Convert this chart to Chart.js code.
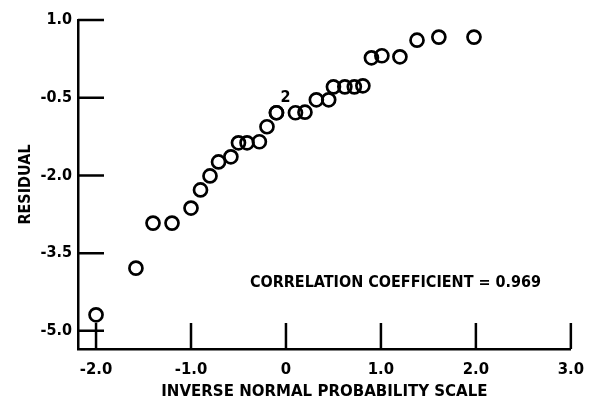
<!DOCTYPE html>
<html>
<head>
<meta charset="utf-8">
<script src="https://cdn.jsdelivr.net/npm/chart.js@4.4.1/dist/chart.umd.min.js"></script>
<style>
  html, body { margin: 0; padding: 0; background: #fff; }
  #wrap { width: 595px; height: 402px; }
</style>
</head>
<body>
<div id="wrap"><canvas id="chart" width="595" height="402"></canvas></div>
<script>
  // inverse normal score (x) vs residual (y)
  const zScores = [-2.00, -1.58, -1.40, -1.20, -1.00, -0.90, -0.80, -0.71, -0.58, -0.50,
    -0.41, -0.28, -0.20, -0.10, -0.10, 0.10, 0.20, 0.32, 0.45, 0.50,
    0.62, 0.72, 0.81, 0.90, 1.01, 1.20, 1.38, 1.61, 1.98];
  const residuals = [-4.69, -3.79, -2.92, -2.92, -2.63, -2.28, -2.01, -1.74, -1.64, -1.37,
    -1.37, -1.35, -1.06, -0.79, -0.79, -0.79, -0.78, -0.54, -0.54, -0.29,
    -0.29, -0.29, -0.27, 0.27, 0.31, 0.29, 0.61, 0.67, 0.67];

  const xTicks = [-2, -1, 0, 1, 2, 3];
  const yTicks = [1.0, -0.5, -2.0, -3.5, -5.0];
  const xTitle = 'INVERSE NORMAL PROBABILITY SCALE';
  const yTitle = 'RESIDUAL';
  const corrText = 'CORRELATION COEFFICIENT = 0.969';
  const corrAnchor = { x: -0.38, y: -4.07 };
  const pairMark = { x: -0.10, y: -0.79, text: '2' };

  const FONT = "'Liberation Sans Narrow', 'DejaVu Sans Condensed', 'DejaVu Sans', sans-serif";
  const INK = '#000';
  const TICK_LEN = 26;

  Chart.defaults.font.family = FONT;
  Chart.defaults.font.weight = 'bold';
  Chart.defaults.color = INK;

  const innerTicks = {
    id: 'innerTicks',
    afterDraw(chart) {
      const { ctx, chartArea, scales } = chart;
      ctx.save();
      ctx.strokeStyle = INK;
      ctx.lineWidth = 2.5;
      ctx.beginPath();
      xTicks.forEach((v) => {
        const px = scales.x.getPixelForValue(v);
        ctx.moveTo(px, chartArea.bottom);
        ctx.lineTo(px, chartArea.bottom - TICK_LEN);
      });
      yTicks.forEach((v) => {
        const py = scales.y.getPixelForValue(v);
        ctx.moveTo(chartArea.left, py);
        ctx.lineTo(chartArea.left + TICK_LEN, py);
      });
      ctx.stroke();
      ctx.restore();
    }
  };

  const notes = {
    id: 'notes',
    afterDraw(chart) {
      const { ctx, scales } = chart;
      ctx.save();
      ctx.fillStyle = INK;
      ctx.textBaseline = 'middle';
      ctx.textAlign = 'left';
      ctx.font = 'bold 16px ' + FONT;
      ctx.fillText(corrText, scales.x.getPixelForValue(corrAnchor.x), scales.y.getPixelForValue(corrAnchor.y));
      ctx.font = 'bold 16px ' + FONT;
      ctx.textAlign = 'center';
      ctx.fillText(pairMark.text, scales.x.getPixelForValue(pairMark.x) + 9, scales.y.getPixelForValue(pairMark.y) - 15);
      ctx.restore();
    }
  };

  new Chart(document.getElementById('chart'), {
    type: 'scatter',
    data: {
      datasets: [{
        data: zScores.map((x, i) => ({ x, y: residuals[i] })),
        pointStyle: 'circle',
        pointRadius: 6.5,
        pointBorderWidth: 2.7,
        pointBackgroundColor: 'rgba(0,0,0,0)',
        pointBorderColor: INK
      }]
    },
    options: {
      responsive: false,
      devicePixelRatio: 1,
      animation: false,
      layout: { padding: { top: 20, right: 17, bottom: 0, left: 0 } },
      plugins: { legend: { display: false }, tooltip: { enabled: false } },
      scales: {
        x: {
          type: 'linear',
          min: -2.19,
          max: 3.0,
          afterBuildTicks: (s) => { s.ticks = xTicks.map((v) => ({ value: v })); },
          afterFit: (s) => { s.height = 53; },
          grid: { display: false, drawTicks: false },
          border: { display: true, color: INK, width: 2.5 },
          ticks: {
            padding: 11,
            font: { size: 16.5 },
            maxRotation: 0,
            callback: (v) => (v === 0 ? '0' : v.toFixed(1))
          },
          title: { display: true, text: xTitle, font: { size: 16.7 }, padding: { top: 0, bottom: 0 } }
        },
        y: {
          type: 'linear',
          min: -5.35,
          max: 1.0,
          afterBuildTicks: (s) => { s.ticks = yTicks.map((v) => ({ value: v })); },
          afterFit: (s) => { s.width = 78; },
          grid: { display: false, drawTicks: false },
          border: { display: true, color: INK, width: 2.5 },
          ticks: {
            padding: 6,
            font: { size: 16 },
            callback: (v) => v.toFixed(1)
          },
          title: { display: true, text: yTitle, font: { size: 16 }, padding: { top: 16, bottom: 0 } }
        }
      }
    },
    plugins: [innerTicks, notes]
  });
</script>
</body>
</html>
